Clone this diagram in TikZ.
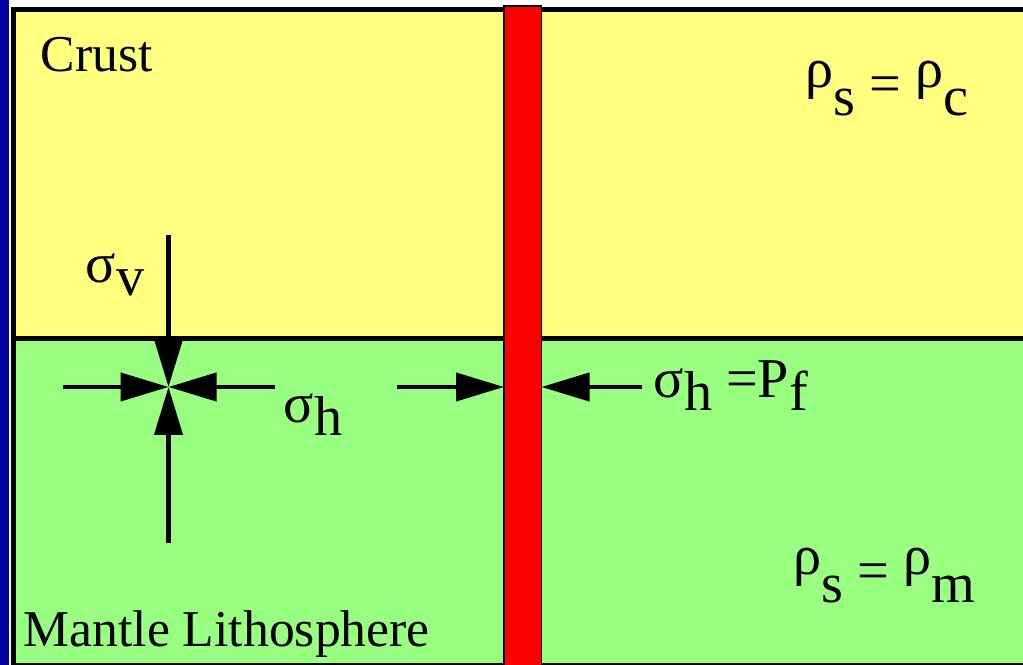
\documentclass[tikz,border=0pt]{standalone}
\usepackage{fontspec}
\setmainfont{Liberation Serif}
\newfontfamily\timesf{Liberation Serif}
\usetikzlibrary{arrows.meta}
\definecolor{crustc}{RGB}{255,255,128}
\definecolor{mantlec}{RGB}{153,255,128}
\definecolor{framec}{RGB}{0,0,160}
\newcommand{\lo}[1]{\raisebox{-0.13cm}{#1}}
\newcommand{\rh}{\raisebox{0.15cm}{ρ}}
\begin{document}
\begin{tikzpicture}[
  lbl/.style={anchor=base west,inner sep=0pt,font=\fontsize{14.7}{17}\selectfont\timesf},
  eq/.style={anchor=base west,inner sep=0pt,font=\fontsize{16}{19}\selectfont\timesf},
  stress/.style={line width=1.2pt,-{Triangle[length=4.8mm,width=2.8mm]}}]
  \useasboundingbox (0,0) rectangle (10.23,6.65);
  \clip (0,0) rectangle (10.23,6.65);
  \fill[white] (0,0) rectangle (10.23,6.65);
  \fill[framec] (0,0) rectangle (0.09,6.65);
  % crust over mantle lithosphere
  \fill[crustc] (0.135,3.265) rectangle (10.5,6.555);
  \fill[mantlec] (0.135,0) rectangle (10.5,3.265);
  \draw[line width=1.4pt] (0.135,0) rectangle (10.5,6.555);
  \draw[line width=1.4pt] (0.135,3.265) -- (10.5,3.265);
  % dike
  \draw[fill=red,line width=0.5pt] (5.04,-0.1) rectangle (5.415,6.59);
  \node[lbl] (crust) at (0.40,5.93) {Crust};
  \node[lbl] (mantle) at (0.23,0.18) {Mantle Lithosphere};
  \node[eq] (sv) at (0.85,3.82) {σ\lo{v}};
  \node[eq] (sh) at (2.83,2.42) {σ\lo{h}};
  \node[eq] (shp) at (6.53,2.67) {σ\lo{h} =P\lo{f}};
  \node[eq] (rc) at (8.05,5.62) {\rh\lo{s} = \rh\lo{c}};
  \node[eq] (rm) at (7.93,0.75) {\rh\lo{s} = \rh\lo{m}};
  % stresses at a point
  \coordinate (c) at (1.685,2.78);
  \coordinate (vt) at (1.685,4.30);
  \coordinate (vb) at (1.685,1.22);
  \coordinate (hl) at (0.63,2.78);
  \coordinate (hr) at (2.75,2.78);
  \draw[stress] (vt)--(c); \draw[stress] (vb)--(c);
  \draw[stress] (hl)--(c); \draw[stress] (hr)--(c);
  % pressure on the dike walls
  \coordinate (ml) at (3.97,2.78);
  \coordinate (dl) at (5.04,2.78);
  \coordinate (mr) at (6.42,2.78);
  \coordinate (dr) at (5.415,2.78);
  \draw[stress] (ml)--(dl); \draw[stress] (mr)--(dr);
\end{tikzpicture}
\end{document}
